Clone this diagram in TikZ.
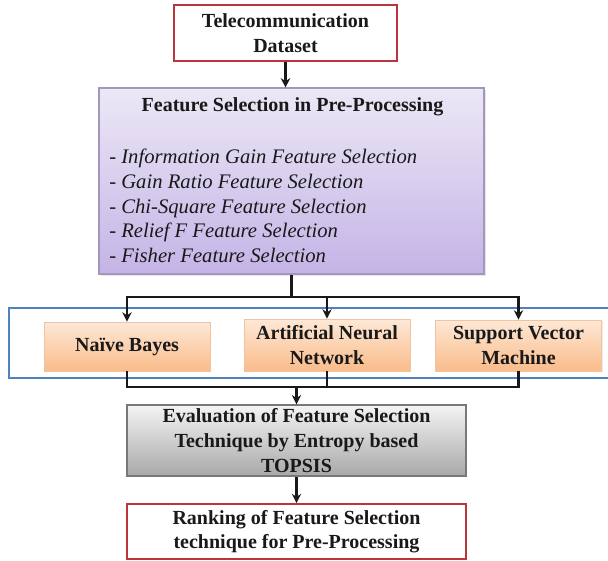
\documentclass[tikz,border=0pt]{standalone}
\usepackage{fontspec}
\setmainfont{Liberation Serif}
\usepackage{tikz}
\usetikzlibrary{positioning, arrows.meta, shadows, calc}
\definecolor{dsred}{RGB}{185, 55, 60}
\definecolor{fstop}{RGB}{236, 232, 246}
\definecolor{fsbottom}{RGB}{196, 180, 230}
\definecolor{fsborder}{RGB}{165, 150, 190}
\definecolor{clfblue}{RGB}{79, 129, 189}
\definecolor{clftop}{RGB}{253, 232, 214}
\definecolor{clfbottom}{RGB}{250, 188, 138}
\definecolor{clfborder}{RGB}{240, 196, 160}
\definecolor{evaltop}{RGB}{244, 244, 244}
\definecolor{evalbottom}{RGB}{168, 168, 168}
\definecolor{evalborder}{RGB}{120, 120, 120}

\begin{document}
\begin{tikzpicture}[x=0.75pt, y=-0.75pt,
    boxfont/.style={font=\bfseries\fontsize{15}{18.5}\selectfont, text=black!90},
    redbox/.style={draw=dsred, line width=1.3pt, fill=white, align=center, boxfont},
    fsbox/.style={draw=fsborder, line width=0.8pt, top color=fstop, bottom color=fsbottom,
      minimum width=288.75pt, minimum height=139.5pt, drop shadow={opacity=0.2, shadow xshift=1.2pt, shadow yshift=-1.2pt}},
    clfbox/.style={draw=clfborder, line width=0.6pt, top color=clftop, bottom color=clfbottom,
      minimum width=124.5pt, align=center, boxfont, drop shadow={opacity=0.15, shadow xshift=1pt, shadow yshift=-1pt}},
    evalbox/.style={draw=evalborder, line width=1pt, top color=evaltop, bottom color=evalbottom,
      minimum width=254.25pt, minimum height=53.25pt, align=center, boxfont, inner sep=1pt,
      drop shadow={opacity=0.2, shadow xshift=1pt, shadow yshift=-1pt}},
    link/.style={line width=1.6pt, black!90},
    arrow/.style={link, -{Stealth[length=7pt, width=7pt]}}]
  \path[use as bounding box] (0,0) rectangle (608,561);
  \clip (0,0) rectangle (608,561);
  % Dataset
  \node[redbox, minimum width=167.25pt, minimum height=42pt] (data) at (285.5,33) {Telecommunication\\Dataset};
  % Feature selection block
  \node[fsbox] (fs) at (291.5,181) {};
  \node[boxfont] (fstitle) at (292.5,107) {Feature Selection in Pre-Processing};
  \node[anchor=west, align=left, inner sep=0pt, text=black!90,
    font=\itshape\fontsize{15.5}{18.6}\selectfont] (fslist) at (109,206) {%
    - Information Gain Feature Selection\\
    - Gain Ratio Feature Selection\\
    - Chi-Square Feature Selection\\
    - Relief F Feature Selection\\
    - Fisher Feature Selection};
  % Classifiers
  \draw[clfblue, line width=1.3pt] (9,308) rectangle (640,378);
  \node[clfbox, minimum height=36.75pt] (nb) at (127,346.5) {Naïve Bayes};
  \node[clfbox, minimum height=39pt] (ann) at (327,345) {Artificial Neural\\Network};
  \node[clfbox, minimum height=38.25pt] (svm) at (518.5,345.5) {Support Vector\\Machine};
  % Evaluation and ranking
  \node[evalbox] (eval) at (296.5,440.5) {Evaluation of Feature Selection\\Technique by Entropy based\\TOPSIS};
  \node[redbox, minimum width=254.25pt, minimum height=41.25pt] (rank) at (296.5,531.5) {Ranking of Feature Selection\\technique for Pre-Processing};
  % Arrows
  \draw[arrow] (data.south) -- (data.south |- fs.north);
  \coordinate (split) at (291.5,297);
  \draw[link] (fs.south) -- (split);
  \draw[arrow] (split) -| (nb.north);
  \draw[arrow] (split) -| (ann.north);
  \draw[arrow] (split) -| (svm.north);
  \coordinate (join) at (296.5,387);
  \draw[link] (nb.south) |- (join);
  \draw[link] (svm.south) |- (join);
  \draw[link] (ann.south) -- (ann.south |- join);
  \draw[arrow] (join) -- (eval.north);
  \draw[arrow] (eval.south) -- (rank.north);
\end{tikzpicture}
\end{document}
